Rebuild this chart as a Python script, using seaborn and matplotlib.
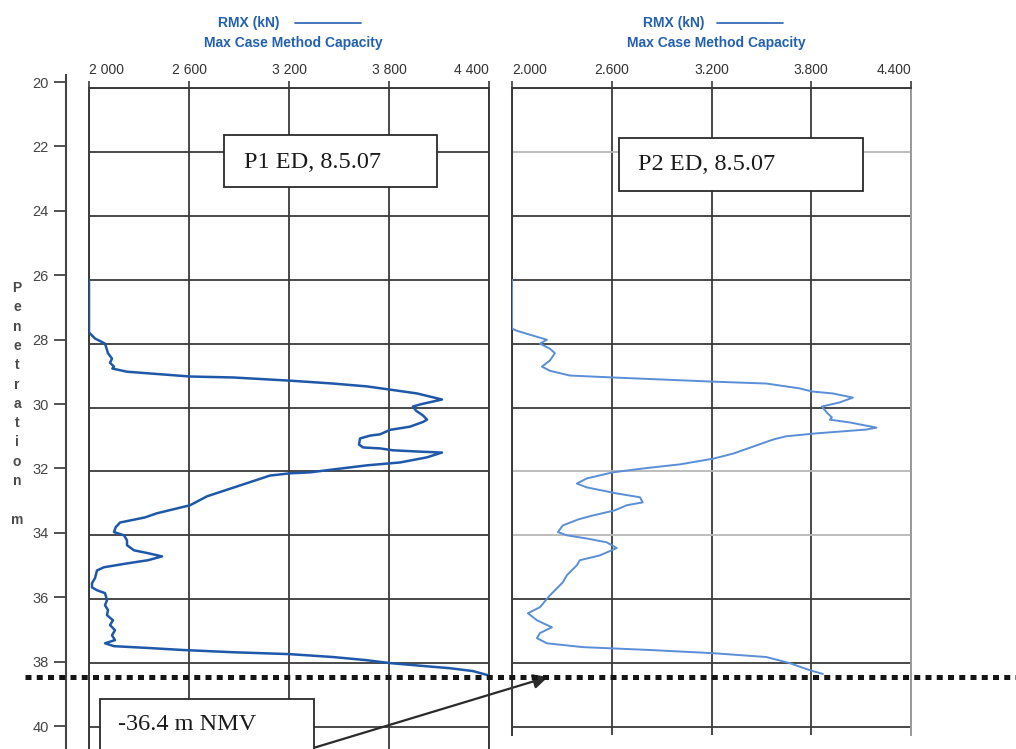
import matplotlib
matplotlib.use("Agg")
import matplotlib.pyplot as plt
import matplotlib.transforms as mtransforms
from matplotlib.lines import Line2D
from matplotlib.patches import Rectangle
import seaborn as sns

# P1 ED, 8.5.07 - penetration (m) vs RMX (kN)
p1_depth = [26.0, 27.65, 27.84, 28.0, 28.3, 28.47, 28.6, 28.72, 28.78, 28.88, 29.03, 29.06, 29.16,
            29.25, 29.34, 29.44, 29.56, 29.75, 29.9, 29.97, 30.1, 30.25, 30.38, 30.45, 30.6, 30.7,
            30.84, 30.88, 30.97, 31.16, 31.25, 31.28, 31.34, 31.38, 31.41, 31.56, 31.72, 31.81,
            31.94, 32.03, 32.06, 32.13, 32.44, 32.78, 33.06, 33.31, 33.44, 33.6, 33.75, 33.9, 34.0,
            34.16, 34.31, 34.47, 34.56, 34.66, 34.78, 34.88, 35.0, 35.1, 35.34, 35.5, 35.63, 35.72,
            35.81, 36.03, 36.19, 36.34, 36.5, 36.66, 36.81, 36.97, 37.13, 37.28, 37.38, 37.47,
            37.53, 37.59, 37.66, 37.72, 37.81, 37.91, 38.0, 38.1, 38.16, 38.25, 38.38, 38.45]
p1_rmx = [2000, 2000, 2036, 2096, 2114, 2138, 2126, 2150, 2140, 2228, 2606, 2864, 3206,
          3464, 3668, 3806, 3968, 4118, 3990, 3944, 3962, 4004, 4028, 4005, 3926, 3806,
          3746, 3686, 3626, 3620, 3644, 3746, 3824, 3980, 4118, 4028, 3866, 3668,
          3464, 3326, 3206, 3086, 2906, 2708, 2606, 2408, 2336, 2186, 2160, 2150, 2210,
          2228, 2228, 2270, 2354, 2438, 2354, 2228, 2090, 2048, 2036, 2018, 2018, 2048,
          2096, 2108, 2096, 2114, 2108, 2144, 2126, 2156, 2138, 2156, 2096, 2150,
          2366, 2564, 2864, 3206, 3464, 3668, 3806, 4028, 4166, 4304, 4394, 4400]

# P2 ED, 8.5.07
p2_depth = [26.0, 27.53, 27.6, 27.75, 27.88, 28.0, 28.16, 28.3, 28.53, 28.72, 28.85, 29.0, 29.06,
            29.13, 29.19, 29.25, 29.4, 29.5, 29.56, 29.69, 29.84, 29.97, 30.16, 30.31, 30.38,
            30.47, 30.63, 30.69, 30.81, 30.9, 31.0, 31.22, 31.44, 31.6, 31.78, 31.91, 32.03,
            32.22, 32.38, 32.5, 32.69, 32.81, 32.97, 33.06, 33.22, 33.38, 33.5, 33.69, 33.9,
            34.0, 34.1, 34.22, 34.4, 34.63, 34.78, 34.94, 35.25, 35.47, 35.88, 36.25, 36.44,
            36.66, 36.88, 37.06, 37.22, 37.38, 37.5, 37.59, 37.69, 37.81, 38.0, 38.22, 38.34]
p2_rmx = [2000, 2000, 2030, 2126, 2210, 2168, 2228, 2258, 2228, 2180, 2228, 2348, 2606,
          2930, 3206, 3530, 3728, 3806, 3930, 4050, 3972, 3864, 3894, 3924, 3912,
          4034, 4192, 4132, 3830, 3650, 3572, 3452, 3332, 3212, 3010, 2786, 2606,
          2450, 2390, 2450, 2630, 2770, 2786, 2690, 2618, 2486, 2400, 2306, 2276,
          2330, 2450, 2570, 2630, 2528, 2408, 2390, 2330, 2306, 2228, 2168, 2096,
          2150, 2240, 2168, 2150, 2210, 2426, 2830, 3210, 3530, 3670, 3790, 3870]

rmx_ticks = [2000, 2600, 3200, 3800, 4400]
p1_ticklabels = ["2 000", "2 600", "3 200", "3 800", "4 400"]
p2_ticklabels = ["2.000", "2.600", "3.200", "3.800", "4.400"]
depth_ticks = [20, 22, 24, 26, 28, 30, 32, 34, 36, 38, 40]
p2_light_rows = [22, 32, 34]
nmv_depth = 38.43
header_line1 = "RMX (kN)"
header_line2 = "Max Case Method Capacity"
ylabel_text = "Penetration m"

sns.set_theme(style="white")
plt.rcParams['font.family'] = ['Liberation Sans', 'DejaVu Sans']

W, H = 1016, 749
fig = plt.figure(figsize=(W / 100, H / 100), dpi=100)


def fx(x):
    return x / W


def fy(y):
    return 1 - y / H


grid_col = '#3a3a3a'
blue_txt = '#2460b0'

# depth axis on the left
ax0 = fig.add_axes([fx(66), 0, 0.0005, (H - 75) / H])
ax0.set_ylim(20 + (H - 82) / 32.2, 20 + (75 - 82) / 32.2)
ax0.set_yticks(depth_ticks)
ax0.set_yticklabels([str(d) for d in depth_ticks], fontsize=10.5, color='#444444')
ax0.set_xticks([])
sns.despine(ax=ax0, top=True, right=True, bottom=True)
ax0.spines['left'].set_color('#444444')
ax0.spines['left'].set_linewidth(1.5)
ax0.tick_params(axis='y', left=True, length=8.5, width=1.3, color='#444444', pad=4)
ax0.patch.set_alpha(0)

for i, ch in enumerate(ylabel_text):
    fig.text(fx(17), fy(288 + i * 19.3), ch, ha='center', va='center',
             fontsize=10, fontweight='bold', color='#4a4a4a')


def setup_panel(ax, ylim_bottom, ticklabels, light_rows=(), light_right=False):
    ax.set_xlim(2000, 4400)
    ax.set_ylim(ylim_bottom, 20)
    ax.set_xticks(rmx_ticks)
    ax.set_yticks(depth_ticks)
    ax.set_yticklabels([])
    ax.xaxis.tick_top()
    ax.set_xticklabels(ticklabels, fontsize=10, color='#333333')
    labels = ax.get_xticklabels()
    labels[0].set_ha('left')
    labels[-1].set_ha('right')
    ax.tick_params(axis='x', top=True, bottom=False, length=5, width=1.2,
                   color=grid_col, pad=3)
    ax.tick_params(axis='y', left=False, right=False)
    ax.set_xlabel('')
    ax.set_ylabel('')
    ax.grid(True, color=grid_col, linewidth=1.3)
    for val, gl in zip(depth_ticks, ax.get_ygridlines()):
        if val in light_rows:
            gl.set_color('#b8b8b8')
    for side in ['left', 'right', 'top']:
        ax.spines[side].set_color(grid_col)
        ax.spines[side].set_linewidth(1.4)
    ax.spines['bottom'].set_visible(False)
    if light_right:
        ax.spines['right'].set_color('#9a9a9a')
    ax.patch.set_alpha(0)


ax1 = fig.add_axes([fx(89), 0, 400 / W, (H - 88) / H])
sns.lineplot(x=p1_rmx, y=p1_depth, sort=False, estimator=None, color='#1f58a8',
             linewidth=1.8, ax=ax1, zorder=3)
setup_panel(ax1, 40 + (H - 727) / 31.95, p1_ticklabels)

ax2 = fig.add_axes([fx(512), (H - 735) / H, 399 / W, (735 - 88) / H])
sns.lineplot(x=p2_rmx, y=p2_depth, sort=False, estimator=None, color='#5a8ed6',
             linewidth=1.4, ax=ax2, zorder=3)
setup_panel(ax2, 40 + 8 / 31.95, p2_ticklabels, light_rows=p2_light_rows, light_right=True)

# headers
for x_rmx, x_line, x_mid in [(218, (295, 361), 293), (643, (717, 783), 716)]:
    fig.text(fx(x_rmx), fy(23), header_line1, ha='left', va='center', fontsize=10,
             fontweight='bold', color=blue_txt)
    fig.add_artist(Line2D([fx(x_line[0]), fx(x_line[1])], [fy(23), fy(23)],
                          color=blue_txt, linewidth=1.2, transform=fig.transFigure))
    fig.text(fx(x_mid), fy(43), header_line2, ha='center', va='center', fontsize=10,
             fontweight='bold', color=blue_txt)


def label_box(x0, y0, x1, y1, tx, ty, text):
    fig.add_artist(Rectangle((fx(x0), fy(y1)), fx(x1) - fx(x0), fy(y0) - fy(y1),
                             transform=fig.transFigure, facecolor='white',
                             edgecolor='#2a2a2a', linewidth=1.3, zorder=5))
    fig.text(fx(tx), fy(ty), text, ha='left', va='center', fontsize=17.5,
             family='Liberation Serif', color='#1a1a1a', zorder=6)


label_box(224, 135, 437, 187, 244, 163, "P1 ED, 8.5.07")
label_box(619, 138, 863, 191, 638, 165, "P2 ED, 8.5.07")

# dotted level line across the figure
trans = mtransforms.blended_transform_factory(fig.transFigure, ax1.transData)
fig.add_artist(Line2D([fx(25), 1.0], [nmv_depth, nmv_depth], transform=trans,
                      color='#151515', linewidth=3.6, linestyle=(0, (1.2, 1.05)), zorder=7))

label_box(100, 699, 314, 760, 118, 724, "-36.4 m NMV")

ax1.annotate('', xy=(fx(548), fy(677)), xycoords='figure fraction',
             xytext=(fx(310), fy(749)), textcoords='figure fraction',
             arrowprops=dict(arrowstyle='-|>', color='#2a2a2a', lw=1.6, mutation_scale=22,
                             shrinkA=0, shrinkB=0), annotation_clip=False, zorder=8)

fig.savefig('out.png', dpi=100)
